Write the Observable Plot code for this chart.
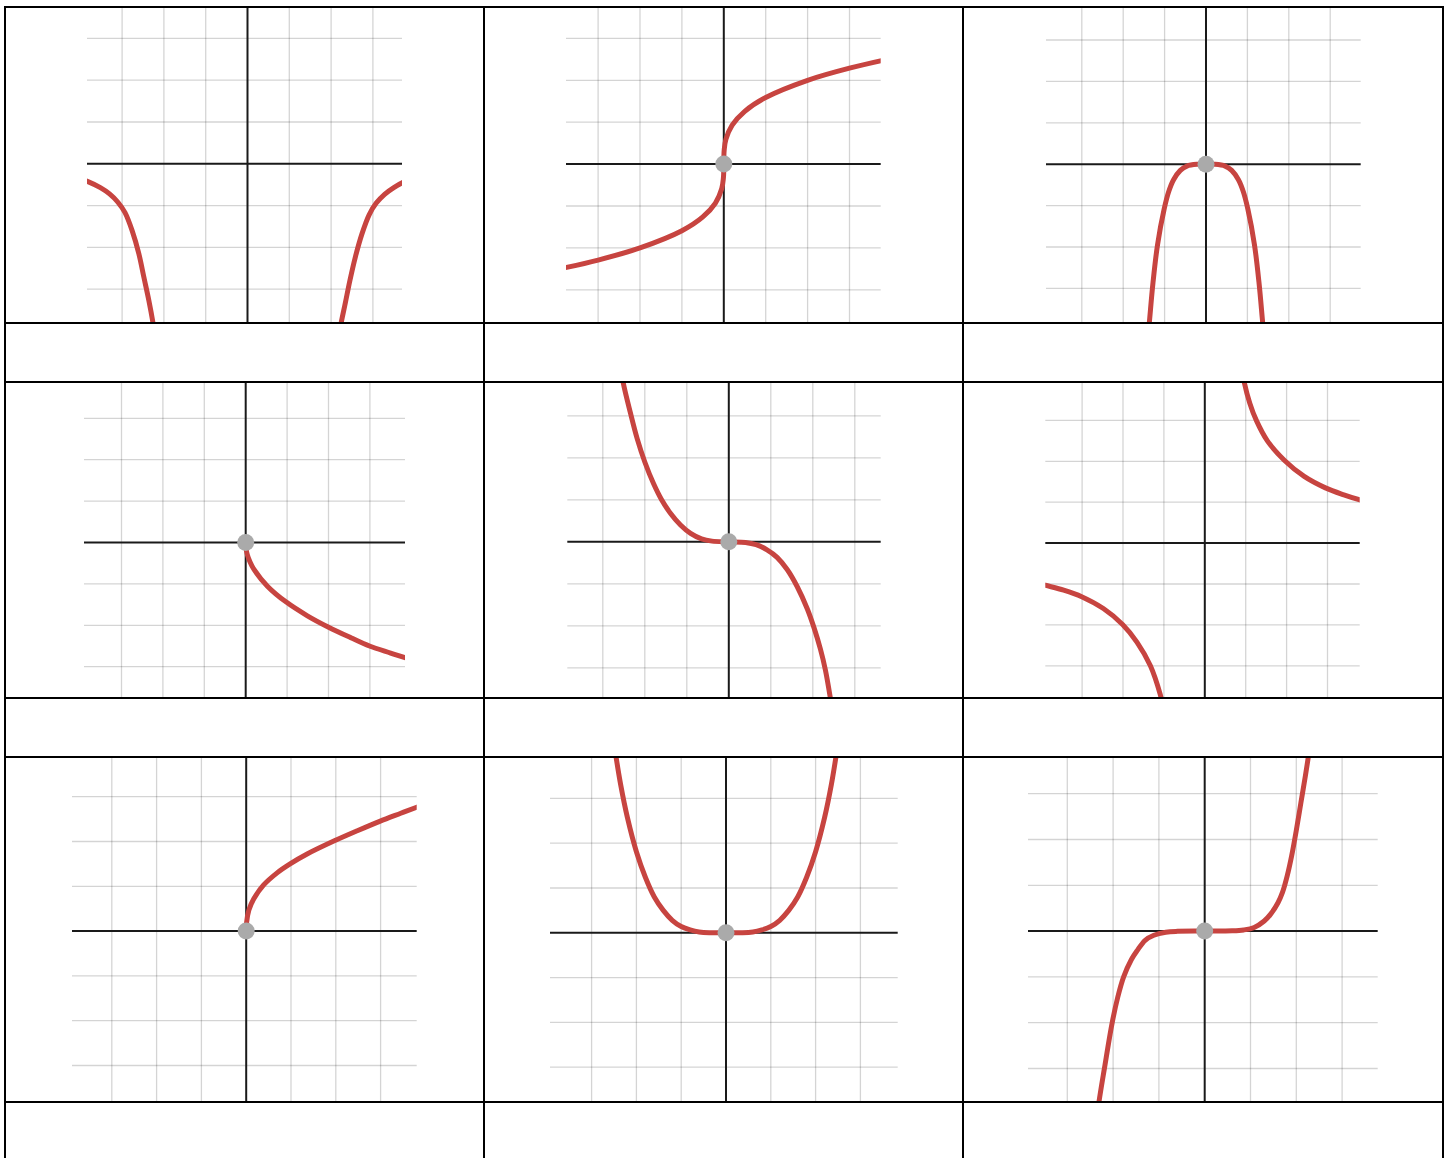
<!DOCTYPE html>
<html>
<head>
<meta charset="utf-8">
<script src="https://cdn.jsdelivr.net/npm/d3@7"></script>
<script src="https://cdn.jsdelivr.net/npm/@observablehq/plot@0.6"></script>
<style>
  html, body { margin: 0; padding: 0; background: #fff; }
  #page { position: relative; width: 1450px; height: 1158px; overflow: hidden; background: #fff; }
  .cell { position: absolute; overflow: hidden; }
  .bline { position: absolute; background: #000; z-index: 5; }
</style>
</head>
<body>
<div id="page"></div>
<script>
// ---------- data (grid units) ----------
const gridTicks = [-3, -2, -1, 1, 2, 3];
const axisTicks = [0];
const originPoint = [[0, 0]];

const curve1Left = [[-4.0,-0.36],[-3.83,-0.42],[-3.52,-0.57],[-3.3,-0.72],[-3.1,-0.92],[-2.93,-1.17],[-2.76,-1.6],[-2.6,-2.15],[-2.48,-2.71],[-2.36,-3.27],[-2.26,-3.81],[-2.2,-4.2]];
const curve1Right = [[2.17,-4.2],[2.24,-3.81],[2.34,-3.33],[2.45,-2.79],[2.58,-2.23],[2.74,-1.67],[2.91,-1.22],[3.08,-0.94],[3.28,-0.73],[3.5,-0.57],[3.71,-0.45],[3.9,-0.38]];

const curve2 = [[-4,-2.52],[-3,-2.29],[-2,-2.0],[-1,-1.59],[-0.5,-1.26],[-0.2,-0.93],[-0.05,-0.59],[-0.01,-0.34],[-0.001,-0.16],[0,0],[0.001,0.16],[0.01,0.34],[0.05,0.59],[0.2,0.93],[0.5,1.26],[1,1.59],[2,2.0],[3,2.29],[4,2.52]];

const curve3 = [[-1.42,-4.42],[-1.36,-3.73],[-1.28,-2.86],[-1.17,-1.94],[-1.01,-1.08],[-0.9,-0.66],[-0.78,-0.37],[-0.62,-0.15],[-0.46,-0.045],[-0.2,-0.002],[0,0],[0.2,-0.002],[0.46,-0.045],[0.62,-0.15],[0.78,-0.37],[0.9,-0.66],[1.01,-1.08],[1.17,-1.94],[1.28,-2.86],[1.36,-3.73],[1.42,-4.42]];

const curve4 = [[0,0],[0.01,-0.15],[0.04,-0.3],[0.1,-0.46],[0.2,-0.65],[0.53,-1.06],[0.98,-1.44],[1.49,-1.77],[1.99,-2.04],[2.54,-2.3],[2.99,-2.5],[3.5,-2.67],[3.87,-2.79],[4.0,-2.83]];

const curve5 = [[-2.6,4.3],[-2.51,3.77],[-2.35,3.1],[-2.18,2.45],[-2.0,1.9],[-1.79,1.38],[-1.6,1.0],[-1.39,0.68],[-1.15,0.4],[-0.91,0.2],[-0.65,0.07],[-0.4,0.016],[0,0],[0.4,-0.016],[0.65,-0.07],[0.91,-0.19],[1.15,-0.37],[1.39,-0.66],[1.63,-1.07],[1.87,-1.6],[2.03,-2.05],[2.18,-2.55],[2.3,-3.05],[2.42,-3.73],[2.5,-4.25]];

const curve6Left = [[-4.0,-1.0],[-3.9,-1.03],[-3.45,-1.15],[-3.01,-1.31],[-2.48,-1.6],[-2.01,-1.99],[-1.66,-2.42],[-1.33,-3.0],[-1.09,-3.7],[-1.0,-4.1]];
const curve6Right = [[0.9,4.3],[0.96,3.95],[1.1,3.42],[1.26,3.0],[1.53,2.5],[1.95,2.02],[2.43,1.63],[2.95,1.35],[3.4,1.18],[3.81,1.05],[4.0,1.0]];

const curve7 = [[0,0],[0.01,0.2],[0.06,0.47],[0.17,0.72],[0.39,1.03],[0.69,1.3],[0.98,1.5],[1.36,1.72],[1.98,2.02],[2.48,2.24],[2.98,2.45],[3.45,2.63],[3.82,2.77],[4.0,2.84]];

const curve8 = [[-2.55,4.6],[-2.45,3.9],[-2.35,3.3],[-2.2,2.57],[-2.0,1.81],[-1.8,1.24],[-1.6,0.8],[-1.4,0.5],[-1.2,0.28],[-1.0,0.14],[-0.8,0.064],[-0.6,0.02],[0,0],[0.6,0.02],[0.8,0.064],[1.0,0.14],[1.2,0.28],[1.4,0.5],[1.6,0.8],[1.8,1.24],[2.0,1.81],[2.2,2.57],[2.35,3.3],[2.45,3.9],[2.55,4.6]];

const curve9 = [[-2.37,-4.2],[-2.31,-3.74],[-2.19,-3.0],[-2.02,-2.0],[-1.9,-1.45],[-1.77,-1.0],[-1.6,-0.62],[-1.47,-0.42],[-1.3,-0.2],[-1.11,-0.09],[-0.85,-0.025],[-0.6,-0.005],[0,0],[0.6,0.005],[0.85,0.025],[1.08,0.08],[1.3,0.22],[1.44,0.37],[1.6,0.62],[1.7,0.85],[1.8,1.2],[1.9,1.65],[2.0,2.2],[2.1,2.8],[2.2,3.4],[2.3,4.05]];

// ---------- layout (page pixels) ----------
const colLines = [5, 484, 963, 1442.5];
const rowLines = [7, 323.3, 381.7, 697.7, 756.7, 1101.7];
const graphRows = [[7, 323.3], [381.7, 697.7], [756.7, 1101.7]];

const panels = [
  {row:0, col:0, curves:[curve1Left, curve1Right], dot:false, ox:247,    oy:163.3, u:41.8, gL:87,     gR:402},
  {row:0, col:1, curves:[curve2],                  dot:true,  ox:723.3,  oy:163.6, u:41.9, gL:566,    gR:880.7},
  {row:0, col:2, curves:[curve3],                  dot:true,  ox:1205.5, oy:163.7, u:41.4, gL:1046,   gR:1360.7},
  {row:1, col:0, curves:[curve4],                  dot:true,  ox:245.2,  oy:541.7, u:41.4, gL:84,     gR:405},
  {row:1, col:1, curves:[curve5],                  dot:true,  ox:728.3,  oy:541,   u:42.0, gL:567.3,  gR:880.7},
  {row:1, col:2, curves:[curve6Left, curve6Right], dot:false, ox:1204.3, oy:542.3, u:40.9, gL:1045.3, gR:1359.7},
  {row:2, col:0, curves:[curve7],                  dot:true,  ox:245.7,  oy:930.3, u:44.8, gL:72,     gR:416.7},
  {row:2, col:1, curves:[curve8],                  dot:true,  ox:725.5,  oy:932,   u:44.8, gL:550,    gR:897.7},
  {row:2, col:2, curves:[curve9],                  dot:true,  ox:1204.2, oy:930.3, u:45.8, gL:1028,   gR:1377.7}
];

const RED = "#c74440";
const page = document.getElementById("page");

for (const p of panels) {
  const left = colLines[p.col], right = colLines[p.col + 1];
  const [top, bottom] = graphRows[p.row];
  const width = right - left, height = bottom - top;
  const table = p.curves.flatMap((pts, i) => pts.map(([x, y]) => ({x, y, seg: i})));
  const chart = Plot.plot({
    width, height,
    marginLeft: p.gL - left, marginRight: right - p.gR,
    marginTop: 0, marginBottom: 0,
    style: {background: "transparent", overflow: "hidden"},
    x: {domain: [(p.gL - p.ox) / p.u, (p.gR - p.ox) / p.u], axis: null},
    y: {domain: [(p.oy - bottom) / p.u, (p.oy - top) / p.u], axis: null},
    marks: [
      Plot.ruleX(gridTicks, {stroke: "#000", strokeOpacity: 0.17, strokeWidth: 1.3}),
      Plot.ruleY(gridTicks, {stroke: "#000", strokeOpacity: 0.17, strokeWidth: 1.3}),
      Plot.ruleX(axisTicks, {stroke: "#1a1a1a", strokeWidth: 2}),
      Plot.ruleY(axisTicks, {stroke: "#1a1a1a", strokeWidth: 2}),
      Plot.line(table, {x: "x", y: "y", z: "seg", stroke: RED, strokeWidth: 5, curve: "catmull-rom", clip: true}),
      p.dot ? Plot.dot(originPoint, {x: d => d[0], y: d => d[1], r: 8.5, fill: "#aaaaaa", stroke: "none"}) : null
    ]
  });
  const holder = document.createElement("div");
  holder.className = "cell";
  holder.style.left = left + "px";
  holder.style.top = top + "px";
  holder.style.width = width + "px";
  holder.style.height = height + "px";
  chart.style.maxWidth = "none";
  holder.appendChild(chart);
  page.appendChild(holder);
}

// table borders
for (const x of colLines) {
  const d = document.createElement("div");
  d.className = "bline";
  d.style.left = (x - 1) + "px"; d.style.top = (rowLines[0] - 1) + "px";
  d.style.width = "2px"; d.style.height = (1158 - rowLines[0] + 1) + "px";
  page.appendChild(d);
}
for (const y of rowLines) {
  const d = document.createElement("div");
  d.className = "bline";
  d.style.left = (colLines[0] - 1) + "px"; d.style.top = (y - 1) + "px";
  d.style.width = (colLines[3] - colLines[0] + 2) + "px"; d.style.height = "2px";
  page.appendChild(d);
}
</script>
</body>
</html>
